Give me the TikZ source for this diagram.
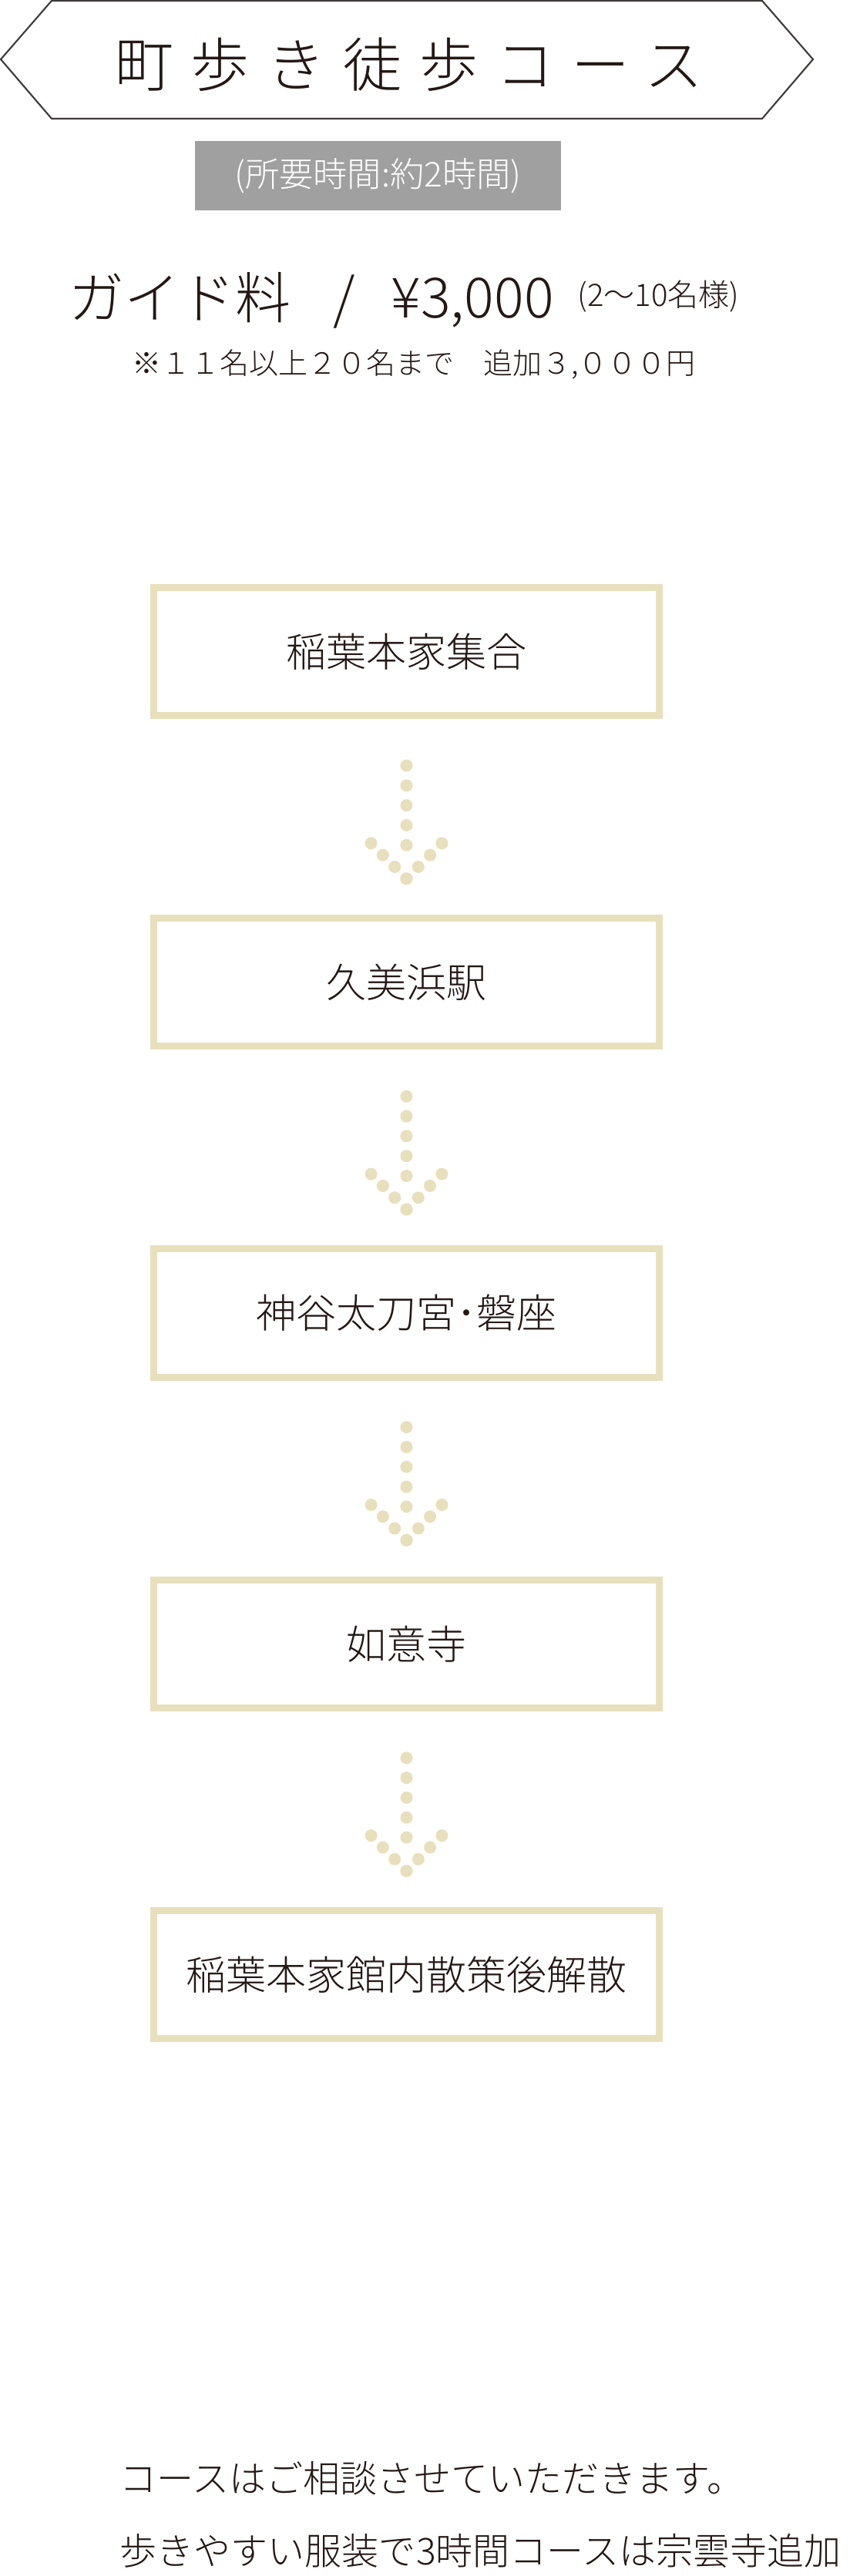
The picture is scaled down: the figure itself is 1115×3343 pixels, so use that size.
\documentclass[tikz,border=0pt]{standalone}
\usepackage{fontspec}
\setmainfont{Noto Sans CJK JP Light}
\usepackage{xcolor}
\usetikzlibrary{calc}
\definecolor{ink}{HTML}{231815}
\definecolor{beige}{HTML}{E8DFBC}
\definecolor{band}{HTML}{A0A0A0}
\definecolor{frame}{HTML}{3E3A39}

\begin{document}
\begin{tikzpicture}[
    x=0.01cm, y=-0.01cm,
    % --- text styles ---
    txt/.style={text=ink, inner sep=0pt},
    % --- stop boxes ---
    stopbox/.style={draw=beige, line width=0.09cm, fill=white,
        minimum width=6.56cm, minimum height=1.66cm,
        text=ink, font=\fontsize{14.8pt}{17pt}\selectfont},
    dot/.style={fill=beige, draw=none},
]
\useasboundingbox (0,0) rectangle (1115,3343);

% =============================================
%  Title banner
% =============================================
\draw[frame, line width=0.6pt] (1,77) -- (67,1) -- (989,1) -- (1055,77)
    -- (989,154) -- (67,154) -- cycle;
\node[txt, font=\fontsize{21.6pt}{24pt}\selectfont\addfontfeature{LetterSpace=30}]
    (title) at (531,84) {町歩き徒歩コース};

% =============================================
%  Duration and fee
% =============================================
\node[fill=band, minimum width=4.75cm, minimum height=0.9cm, inner sep=0pt,
      text=white, font=\fontsize{12.6pt}{14pt}\selectfont]
    (time) at (490.5,228) {(所要時間:約2時間)};

\node[txt, anchor=west, font=\fontsize{20.5pt}{22pt}\selectfont] (fee) at (89,386) {ガイド料};
\node[txt, font=\fontsize{20.5pt}{22pt}\selectfont] (slash) at (447,392) {/};
\node[txt, anchor=base west, font=\fontsize{20.5pt}{22pt}\selectfont] (price) at (507,413) {¥3,000};
\node[txt, anchor=west, font=\fontsize{11.4pt}{13pt}\selectfont] (pax) at (749,385) {(2〜10名様)};
\node[txt, font=\fontsize{10.8pt}{12pt}\selectfont]
    (extra) at (537,473) {※１１名以上２０名まで　追加３,０００円};

% =============================================
%  Stops
% =============================================
\node[stopbox] (s1) at (527.5,845.5)  {稲葉本家集合};
\node[stopbox] (s2) at (527.5,1274.75) {久美浜駅};
\node[stopbox] (s3) at (527.5,1704)   {神谷太刀宮･磐座};
\node[stopbox] (s4) at (527.5,2133.25) {如意寺};
\node[stopbox] (s5) at (527.5,2562.5) {稲葉本家館内散策後解散};

% dotted arrows between stops
\foreach \a in {s1,s2,s3,s4} {
    \foreach \k in {0,...,4}
        \fill[dot] ($(\a.south)+(0,60.5+25.8*\k)$) circle[radius=0.08cm];
    \foreach \j in {0,...,3} {
        \fill[dot] ($(\a.south)+(15.3*\j,207.2-15.3*\j)$) circle[radius=0.08cm];
        \fill[dot] ($(\a.south)+(-15.3*\j,207.2-15.3*\j)$) circle[radius=0.08cm];
    }
}

% =============================================
%  Notes
% =============================================
\node[txt, anchor=west, font=\fontsize{13.66pt}{16pt}\selectfont]
    (note1) at (155,3216) {コースはご相談させていただきます。};
\node[txt, anchor=west, font=\fontsize{13.66pt}{16pt}\selectfont]
    (note2) at (155,3310) {歩きやすい服装で3時間コースは宗雲寺追加};

\end{tikzpicture}
\end{document}
